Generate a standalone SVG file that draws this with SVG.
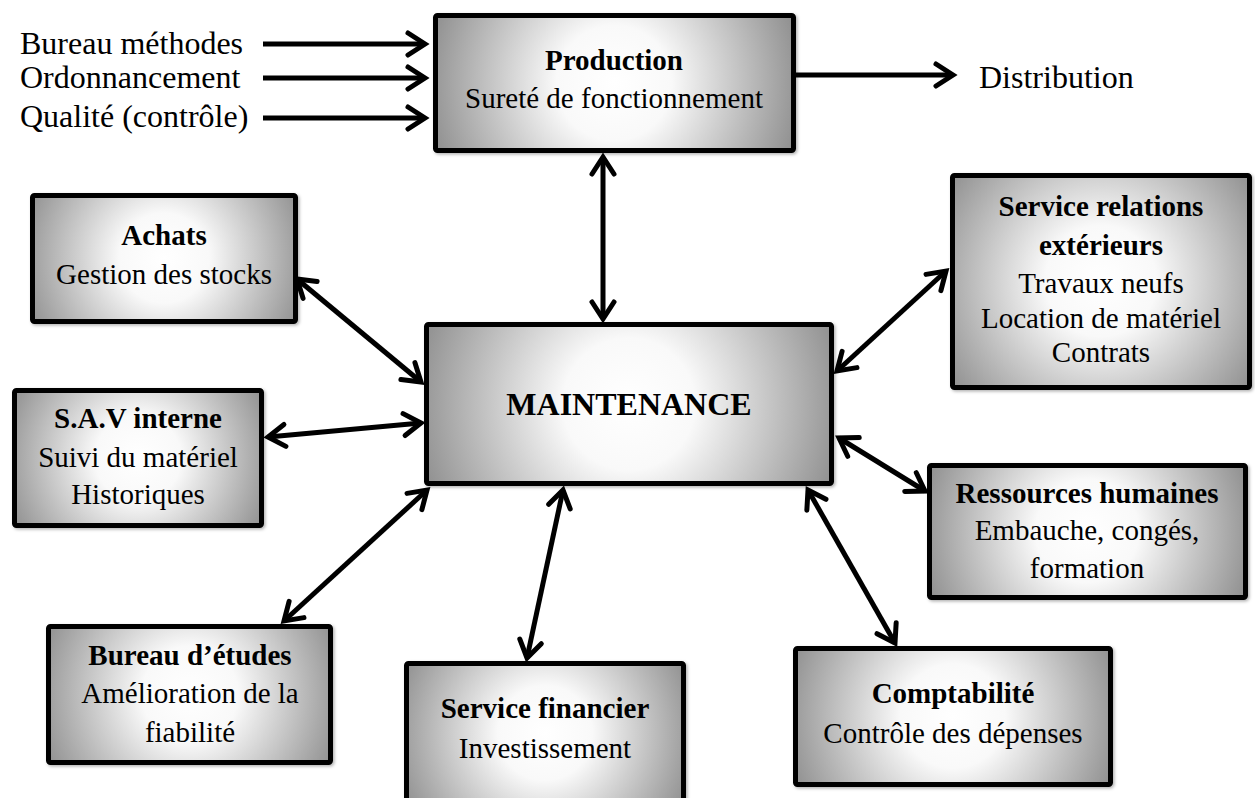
<svg xmlns="http://www.w3.org/2000/svg" width="1255" height="798" viewBox="0 0 1255 798" font-family="'Liberation Serif', 'Times New Roman', Tinos, 'Noto Serif', serif">
  <style>
    .box { stroke: #000; stroke-width: 5; stroke-linejoin: round; filter: url(#soft); }
    .t { fill: #000; text-anchor: middle; font-size: 29px; }
    .b { font-weight: bold; }
    .big { font-size: 32px; font-weight: bold; }
    .lbl { fill: #000; font-size: 32px; }
    .link { stroke: #000; stroke-width: 5; fill: none; marker-end: url(#head); }
    .both { marker-start: url(#head); }
  </style>
  <defs>
    <filter id="soft" x="-10%" y="-10%" width="125%" height="125%">
      <feDropShadow dx="1.5" dy="1.5" stdDeviation="1.5" flood-color="#000" flood-opacity="0.3"/>
    </filter>
    <marker id="head" markerUnits="userSpaceOnUse" viewBox="-24 -16 30 32" markerWidth="30" markerHeight="32" refX="0" refY="0" orient="auto-start-reverse" overflow="visible">
      <path d="M -17 -11 L 0 0 L -17 11" fill="none" stroke="#000" stroke-width="5" stroke-linecap="round" stroke-linejoin="miter"/>
    </marker>
    <!-- circular shading from a white centre to grey corners, one per box -->
    <radialGradient id="gProd" gradientUnits="userSpaceOnUse" cx="614" cy="83" r="192">
      <stop offset="0" stop-color="#ffffff"/><stop offset="0.3" stop-color="#f9f9f9"/><stop offset="1" stop-color="#8e8e8e"/>
    </radialGradient>
    <radialGradient id="gMain" gradientUnits="userSpaceOnUse" cx="629" cy="404" r="220">
      <stop offset="0" stop-color="#ffffff"/><stop offset="0.3" stop-color="#f9f9f9"/><stop offset="1" stop-color="#8e8e8e"/>
    </radialGradient>
    <radialGradient id="gAch" gradientUnits="userSpaceOnUse" cx="164" cy="258" r="150">
      <stop offset="0" stop-color="#ffffff"/><stop offset="0.3" stop-color="#f9f9f9"/><stop offset="1" stop-color="#8e8e8e"/>
    </radialGradient>
    <radialGradient id="gSav" gradientUnits="userSpaceOnUse" cx="138" cy="458" r="143">
      <stop offset="0" stop-color="#ffffff"/><stop offset="0.3" stop-color="#f9f9f9"/><stop offset="1" stop-color="#8e8e8e"/>
    </radialGradient>
    <radialGradient id="gBe" gradientUnits="userSpaceOnUse" cx="190" cy="694" r="160">
      <stop offset="0" stop-color="#ffffff"/><stop offset="0.3" stop-color="#f9f9f9"/><stop offset="1" stop-color="#8e8e8e"/>
    </radialGradient>
    <radialGradient id="gSf" gradientUnits="userSpaceOnUse" cx="545" cy="733" r="158">
      <stop offset="0" stop-color="#ffffff"/><stop offset="0.3" stop-color="#f9f9f9"/><stop offset="1" stop-color="#8e8e8e"/>
    </radialGradient>
    <radialGradient id="gCpt" gradientUnits="userSpaceOnUse" cx="953" cy="716" r="174">
      <stop offset="0" stop-color="#ffffff"/><stop offset="0.3" stop-color="#f9f9f9"/><stop offset="1" stop-color="#8e8e8e"/>
    </radialGradient>
    <radialGradient id="gRh" gradientUnits="userSpaceOnUse" cx="1087" cy="531" r="172">
      <stop offset="0" stop-color="#ffffff"/><stop offset="0.3" stop-color="#f9f9f9"/><stop offset="1" stop-color="#8e8e8e"/>
    </radialGradient>
    <radialGradient id="gSr" gradientUnits="userSpaceOnUse" cx="1101" cy="281" r="185">
      <stop offset="0" stop-color="#ffffff"/><stop offset="0.3" stop-color="#f9f9f9"/><stop offset="1" stop-color="#8e8e8e"/>
    </radialGradient>
  </defs>

  <rect width="1255" height="798" fill="#ffffff"/>

  <!-- inputs and output around Production -->
  <g id="inputs">
    <text class="lbl" x="20" y="54">Bureau méthodes</text>
    <text class="lbl" x="20" y="88">Ordonnancement</text>
    <text class="lbl" x="20" y="127">Qualité (contrôle)</text>
    <text class="lbl" x="979" y="88">Distribution</text>
  </g>

  <g id="connectors">
    <line class="link" x1="263" y1="44" x2="425" y2="44"/>
    <line class="link" x1="263" y1="78" x2="425" y2="78"/>
    <line class="link" x1="263" y1="118" x2="425" y2="118"/>
    <line class="link" x1="796" y1="75" x2="953" y2="75"/>
    <line class="link both" x1="603" y1="157" x2="603" y2="319"/>
    <line class="link both" x1="297" y1="279" x2="421" y2="382"/>
    <line class="link both" x1="268" y1="437" x2="421" y2="423"/>
    <line class="link both" x1="284" y1="621" x2="427" y2="490"/>
    <line class="link both" x1="527" y1="658" x2="563" y2="490"/>
    <line class="link both" x1="808" y1="490" x2="895" y2="643"/>
    <line class="link both" x1="946" y1="271" x2="837" y2="371"/>
    <line class="link both" x1="839" y1="438" x2="925" y2="491"/>
  </g>

  <g id="production">
    <rect class="box" x="435.5" y="15.5" width="358" height="135" rx="2" fill="url(#gProd)"/>
    <text class="t b" x="614" y="70">Production</text>
    <text class="t" x="614" y="108">Sureté de fonctionnement</text>
  </g>

  <g id="maintenance">
    <rect class="box" x="426.5" y="324.5" width="405" height="159" rx="2" fill="url(#gMain)"/>
    <text class="t big" x="629" y="415">MAINTENANCE</text>
  </g>

  <g id="achats">
    <rect class="box" x="32.5" y="195.5" width="263" height="126" rx="2" fill="url(#gAch)"/>
    <text class="t b" x="164" y="245">Achats</text>
    <text class="t" x="164" y="284">Gestion des stocks</text>
  </g>

  <g id="sav">
    <rect class="box" x="14.5" y="390.5" width="247" height="135" rx="2" fill="url(#gSav)"/>
    <text class="t b" x="138" y="428">S.A.V interne</text>
    <text class="t" x="138" y="467">Suivi du matériel</text>
    <text class="t" x="138" y="504">Historiques</text>
  </g>

  <g id="bureau-etudes">
    <rect class="box" x="48.5" y="626.5" width="282" height="136" rx="2" fill="url(#gBe)"/>
    <text class="t b" x="190" y="665">Bureau d’études</text>
    <text class="t" x="190" y="703">Amélioration de la</text>
    <text class="t" x="190" y="742">fiabilité</text>
  </g>

  <g id="service-financier">
    <rect class="box" x="406.5" y="663.5" width="277" height="140" rx="2" fill="url(#gSf)"/>
    <text class="t b" x="545" y="718">Service financier</text>
    <text class="t" x="545" y="758">Investissement</text>
  </g>

  <g id="comptabilite">
    <rect class="box" x="795.5" y="648.5" width="315" height="136" rx="2" fill="url(#gCpt)"/>
    <text class="t b" x="953" y="703">Comptabilité</text>
    <text class="t" x="953" y="743">Contrôle des dépenses</text>
  </g>

  <g id="ressources-humaines">
    <rect class="box" x="929.5" y="465.5" width="316" height="132" rx="2" fill="url(#gRh)"/>
    <text class="t b" x="1087" y="503">Ressources humaines</text>
    <text class="t" x="1087" y="540">Embauche, congés,</text>
    <text class="t" x="1087" y="578">formation</text>
  </g>

  <g id="relations-exterieurs">
    <rect class="box" x="952.5" y="175.5" width="297" height="212" rx="2" fill="url(#gSr)"/>
    <text class="t b" x="1101" y="216">Service relations</text>
    <text class="t b" x="1101" y="255">extérieurs</text>
    <text class="t" x="1101" y="293">Travaux neufs</text>
    <text class="t" x="1101" y="328">Location de matériel</text>
    <text class="t" x="1101" y="362">Contrats</text>
  </g>
</svg>
